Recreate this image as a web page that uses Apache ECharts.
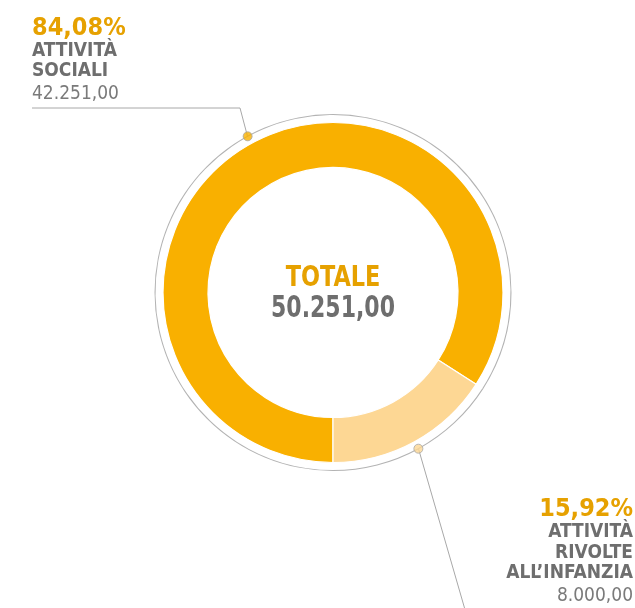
<!DOCTYPE html>
<html>
<head>
<meta charset="utf-8">
<script src="https://cdn.jsdelivr.net/npm/echarts@6/dist/echarts.min.js"></script>
<style>
  html, body { margin: 0; padding: 0; background: #fff; }
  #main { width: 635px; height: 608px; }
</style>
</head>
<body>
<div id="main"></div>
<script>
// dati
const categories = ['ATTIVITÀ\nSOCIALI', 'ATTIVITÀ\nRIVOLTE\nALL’INFANZIA'];
const values = [42251, 8000];
const colors = ['#F9B000', '#FDD794'];
const totalLabel = 'TOTALE';

const FONT = "'Liberation Sans Narrow', 'DejaVu Sans Condensed', 'Roboto Condensed', sans-serif";
const ORANGE = '#E6A100';
const GREY = '#6E6E6E';
const CX = 333, CY = 292.5;

const total = values.reduce((a, b) => a + b, 0);

// formato italiano 42.251,00
function itNum(v) {
  const parts = v.toFixed(2).split('.');
  return parts[0].replace(/\B(?=(\d{3})+(?!\d))/g, '.') + ',' + parts[1];
}
function pct(v) {
  return (v / total * 100).toFixed(2).replace('.', ',') + '%';
}

// angolo medio di ogni fetta (sulla scala angolare del polar)
const mids = [];
let acc = 0;
values.forEach(v => { mids.push(acc + v / 2); acc += v; });

const chart = echarts.init(document.getElementById('main'));

const rich = {
  p: { fontFamily: FONT, fontSize: 25, fontWeight: 'bold', color: ORANGE, lineHeight: 25 },
  n: { fontFamily: FONT, fontSize: 19, fontWeight: 'bold', color: GREY, lineHeight: 20.4 },
  v: { fontFamily: FONT, fontSize: 19, color: '#7A7A7A', lineHeight: 26 }
};

chart.setOption({
  animation: false,
  polar: { center: [CX, CY], radius: 178 },
  angleAxis: {
    type: 'value', min: 0, max: total, startAngle: 270, clockwise: true,
    show: false, axisLine: { show: false }, splitLine: { show: false }
  },
  radiusAxis: { type: 'value', min: 0, max: 1, show: false, splitLine: { show: false } },
  graphic: [{
    // testo centrale, compresso in orizzontale
    type: 'text',
    x: CX, y: 278.5, scaleX: 0.89,
    style: {
      text: totalLabel, fontFamily: FONT, fontSize: 28, fontWeight: 'bold', fill: ORANGE,
      align: 'center', verticalAlign: 'middle'
    }
  }, {
    type: 'text',
    x: CX, y: 309.5, scaleX: 0.83,
    style: {
      text: itNum(total), fontFamily: FONT, fontSize: 29.5, fontWeight: 'bold', fill: GREY,
      align: 'center', verticalAlign: 'middle'
    }
  }],
  series: [
    {
      type: 'pie',
      center: [CX, CY],
      radius: [125, 170],
      startAngle: 270,
      clockwise: true,
      silent: true,
      label: { show: false },
      labelLine: { show: false },
      itemStyle: { borderColor: '#fff', borderWidth: 1.2 },
      data: values.map((v, i) => ({ value: v, name: categories[i], itemStyle: { color: colors[i] } }))
    },
    {
      // cerchio grigio esterno con etichette
      type: 'pie',
      center: [CX, CY],
      radius: [177.5, 178.5],
      startAngle: 270,
      clockwise: true,
      silent: true,
      itemStyle: { color: '#B3B3B3', borderWidth: 0 },
      label: {
        show: true,
        position: 'outside',
        formatter: p => '{p|' + pct(p.value) + '}\n{n|' + p.name + '}\n{v|' + itNum(p.value) + '}',
        rich: rich
      },
      labelLine: { show: true, lineStyle: { color: '#A8A8A8', width: 1 } },
      labelLayout: function (params) {
        const p0 = params.labelLinePoints ? params.labelLinePoints[0] : [CX, CY];
        if (params.dataIndex === 0) {
          return {
            x: 32, y: 15.5, align: 'left', verticalAlign: 'top',
            labelLinePoints: [p0, [240, 108], [32, 108]]
          };
        }
        return {
          x: 633, y: 497, align: 'right', verticalAlign: 'top',
          labelLinePoints: [p0, [468, 620]]
        };
      },
      data: values.map((v, i) => ({ value: v, name: categories[i] }))
    },
    {
      // pallini sul cerchio
      type: 'scatter',
      coordinateSystem: 'polar',
      symbolSize: 9,
      z: 10,
      silent: true,
      data: values.map((v, i) => ({
        value: [1, mids[i]],
        itemStyle: { color: colors[i], borderColor: '#A8A8A8', borderWidth: 1 }
      }))
    }
  ]
});
</script>
</body>
</html>
